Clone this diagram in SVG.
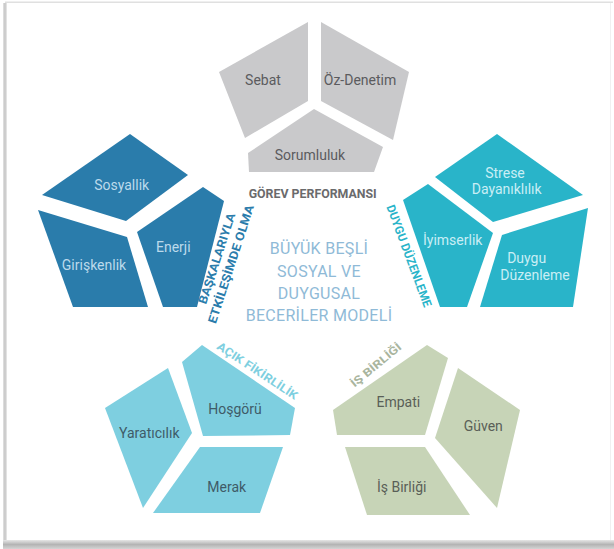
<svg xmlns="http://www.w3.org/2000/svg" width="614" height="549" viewBox="0 0 614 549">
<defs>
<style>
.t{font-family:Roboto,"Liberation Sans",sans-serif;font-size:14px;text-anchor:middle}
.lbl{font-family:Roboto,"Liberation Sans",sans-serif;font-weight:bold;text-anchor:middle}
.gray{fill:#c9c9cb}.dblue{fill:#2a7cab}.teal{fill:#29b4c9}.lblue{fill:#7ecfe0}.sage{fill:#c7d4b7}
.tg{fill:#5b5b5e}.tw{fill:#bcdaeb}.tt{fill:#c9eef5}.ts{fill:#3f5b68}.tsg{fill:#5a5f57}
.center{font-family:Roboto,"Liberation Sans",sans-serif;font-size:16px;font-weight:normal;fill:#8fbad7;text-anchor:middle;letter-spacing:0.3px}
</style>
<linearGradient id="bot" x1="0" y1="0" x2="0" y2="1">
<stop offset="0" stop-color="#e6e6e6"/><stop offset="0.5" stop-color="#b4b4b4"/><stop offset="1" stop-color="#d4d4d4"/>
</linearGradient>
<linearGradient id="lft" x1="0" y1="0" x2="1" y2="0">
<stop offset="0" stop-color="#e4e4e4"/><stop offset="0.5" stop-color="#c4c4c4"/><stop offset="1" stop-color="#ececec"/>
</linearGradient>
</defs>
<rect width="614" height="549" fill="#ffffff"/>
<g id="frame">
<rect x="5" y="1.5" width="608" height="1.5" fill="#e0e0e0"/>
<rect x="3" y="3" width="4" height="539" fill="url(#lft)"/>
<rect x="3" y="540" width="611" height="9" fill="url(#bot)"/>
<rect x="610" y="3" width="1" height="537" fill="#f0f0f0"/>
</g>
<g id="connectors"/>
<g id="gorev-performansi">
<polygon id="sebat" class="gray" points="308,22 219,72 245,138 308,101"/>
<polygon id="oz-denetim" class="gray" points="321,22 409,72 393,140 321,101"/>
<polygon id="sorumluluk" class="gray" points="314,109 248,153 249,172 374,172 383,147"/>
<text class="t tg" x="263" y="85">Sebat</text>
<text class="t tg" x="360" y="85">Öz-Denetim</text>
<text class="t tg" x="310" y="160">Sorumluluk</text>
<text class="lbl" x="312.7" y="198" font-size="13.5" fill="#6a6a6c" textLength="128" lengthAdjust="spacingAndGlyphs">GÖREV PERFORMANSI</text>
</g>
<g id="baskalariyla-etkilesimde-olma">
<polygon id="sosyallik" class="dblue" points="42,195 130,134 188,175 126,221"/>
<polygon id="enerji" class="dblue" points="203,187 224,201 197,307 163,307 137,232"/>
<polygon id="giriskenlik" class="dblue" points="38,210 127,237 148,307 73,307"/>
<text class="t tw" x="121.7" y="190">Sosyallik</text>
<text class="t tw" x="173.3" y="251.7">Enerji</text>
<text class="t tw" x="94" y="270">Girişkenlik</text>
<text class="lbl" transform="translate(216.7,258.3) rotate(-72)" x="0" y="4.3" font-size="12" fill="#2a7cab" textLength="95" lengthAdjust="spacingAndGlyphs">BAŞKALARIYLA</text>
<text class="lbl" transform="translate(230.8,264) rotate(-72)" x="0" y="4.3" font-size="12" fill="#2a7cab" textLength="124" lengthAdjust="spacingAndGlyphs">ETKİLEŞİMDE OLMA</text>
</g>
<g id="duygu-duzenleme">
<polygon id="strese-dayaniklilik" class="teal" points="435,177 497,134 583,195 493,222"/>
<polygon id="iyimserlik" class="teal" points="403,200 428,184 493,233 467,307 440,307"/>
<polygon id="duygu-duzenleme-piece" class="teal" points="502,235 588,208 573,307 480,307"/>
<text class="t tt" x="505" y="178.3">Strese</text>
<text class="t tt" x="506.7" y="194.3">Dayanıklılık</text>
<text class="t tt" x="452.7" y="245">İyimserlik</text>
<text class="t tt" x="526.7" y="263.3">Duygu</text>
<text class="t tt" x="535" y="280">Düzenleme</text>
<text class="lbl" transform="translate(409.2,255.8) rotate(69.5)" x="0" y="4.3" font-size="12" fill="#29b4c9" textLength="108" lengthAdjust="spacingAndGlyphs">DUYGU DÜZENLEME</text>
</g>
<g id="acik-fikirlilik">
<polygon id="hosgoru" class="lblue" points="182,362 202,345 295,408 290,435 203,436"/>
<polygon id="yaraticilik" class="lblue" points="105,408 168,368 192,433 143,508"/>
<polygon id="merak" class="lblue" points="200,447 283,447 260,513 153,513"/>
<text class="t ts" x="235" y="414.3">Hoşgörü</text>
<text class="t ts" x="149.3" y="438.3">Yaratıcılık</text>
<text class="t ts" x="226.7" y="491.7">Merak</text>
<text class="lbl" transform="translate(257.5,370.8) rotate(33.5)" x="0" y="4" font-size="11.5" fill="#7ecfe0" textLength="94" lengthAdjust="spacingAndGlyphs">AÇIK FİKİRLİLİK</text>
</g>
<g id="is-birligi">
<polygon id="empati" class="sage" points="333,410 427,345 448,358 425,435 337,435"/>
<polygon id="guven" class="sage" points="458,368 520,410 497,508 435,438"/>
<polygon id="is-birligi-piece" class="sage" points="345,447 425,447 470,515 367,515"/>
<text class="t tsg" x="398.3" y="406.7">Empati</text>
<text class="t tsg" x="483.3" y="431">Güven</text>
<text class="t tsg" x="401.7" y="491.7">İş Birliği</text>
<text class="lbl" transform="translate(375.8,365) rotate(-39.6)" x="0" y="4" font-size="11" fill="#a9b59e" textLength="62" lengthAdjust="spacingAndGlyphs">İŞ BİRLİĞİ</text>
</g>
<g id="title">
<text class="center" x="319" y="253.7">BÜYÜK BEŞLİ</text>
<text class="center" x="319" y="276.7">SOSYAL VE</text>
<text class="center" x="319" y="298.7">DUYGUSAL</text>
<text class="center" x="319" y="320.7">BECERİLER MODELİ</text>
</g>
</svg>
